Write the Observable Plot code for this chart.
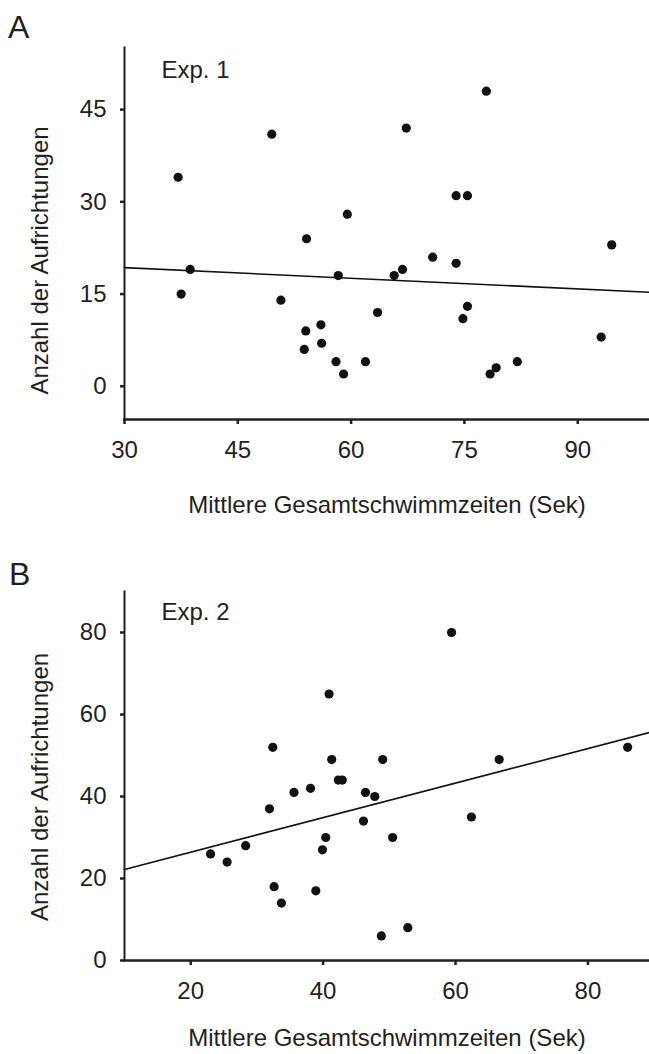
<!DOCTYPE html>
<html><head><meta charset="utf-8">
<script src="https://cdn.jsdelivr.net/npm/d3@7"></script>
<script src="https://cdn.jsdelivr.net/npm/@observablehq/plot@0.6"></script>
<style>
body{margin:0;background:#fff;font-family:"Liberation Sans",Arial,sans-serif;}
#wrap{position:relative;width:649px;height:1054px;overflow:hidden;}
.pl{position:absolute;font-size:32px;color:#231f20;line-height:1;}
.holder{position:absolute;left:0;}
</style></head><body>
<div id="wrap">
<div id="a" class="holder" style="top:0"></div>
<div id="b" class="holder" style="top:540px"></div>
<div class="pl" style="left:8px;top:11px">A</div>
<div class="pl" style="left:9px;top:558px">B</div>
</div>
<script>
// Panel A (Exp. 1)
const expAx = [37.1, 37.5, 38.7, 49.5, 50.7, 53.8, 54.0, 54.1, 56.0, 56.1, 58.0, 58.3, 59.0, 59.5, 61.9, 63.5, 65.7, 66.8, 67.3, 70.8, 73.9, 73.9, 74.8, 75.4, 75.4, 77.9, 78.4, 79.2, 82.0, 93.1, 94.5];
const expAy = [34, 15, 19, 41, 14, 6, 9, 24, 10, 7, 4, 18, 2, 28, 4, 12, 18, 19, 42, 21, 31, 20, 11, 13, 31, 48, 2, 3, 4, 8, 23];
const fitAx = [30, 99.5];
const fitAy = [19.3, 15.3];
const xTicksA = [30, 45, 60, 75, 90];
const yTicksA = [0, 15, 30, 45];

// Panel B (Exp. 2)
const expBx = [23.0, 25.5, 28.3, 31.9, 32.4, 32.6, 33.7, 35.6, 38.1, 38.9, 39.9, 40.4, 40.9, 41.3, 42.3, 42.9, 46.1, 46.4, 47.8, 48.8, 49.0, 50.5, 52.8, 59.4, 62.4, 66.6, 86.0];
const expBy = [26, 24, 28, 37, 52, 18, 14, 41, 42, 17, 27, 30, 65, 49, 44, 44, 34, 41, 40, 6, 49, 30, 8, 80, 35, 49, 52];
const fitBx = [10, 89.3];
const fitBy = [22.2, 55.6];
const xTicksB = [20, 40, 60, 80];
const yTicksB = [0, 20, 40, 60, 80];

const xLabel = "Mittlere Gesamtschwimmzeiten (Sek)";
const yLabel = "Anzahl der Aufrichtungen";
const ink = "#231f20";

function panel(o) {
  const data = o.xs.map((x, i) => ({x, y: o.ys[i]}));
  const fit = o.fitX.map((x, i) => ({x, y: o.fitY[i]}));
  return Plot.plot({
    width: 649, height: o.height,
    marginLeft: 124, marginRight: 0, marginTop: o.mt, marginBottom: o.mb,
    style: {fontFamily: "'Liberation Sans', Arial, sans-serif", fontSize: "24px", color: ink, background: "#fff", overflow: "visible"},
    x: {domain: o.xDomain},
    y: {domain: o.yDomain},
    marks: [
      Plot.frame({anchor: "left", stroke: ink, strokeWidth: 2}),
      Plot.frame({anchor: "bottom", stroke: ink, strokeWidth: 2.3}),
      Plot.axisX(o.xTicks, {tickSize: 5, tickPadding: 16, strokeWidth: 2.5, stroke: ink, fill: ink, label: null, fontSize: 24, tickFormat: d => String(d)}),
      Plot.axisY(o.yTicks, {tickSize: 4, tickPadding: 14, strokeWidth: 2.5, stroke: ink, fill: ink, label: null, fontSize: 24, tickFormat: d => String(d)}),
      Plot.line(fit, {x: "x", y: "y", stroke: "#111", strokeWidth: 1.6}),
      Plot.dot(data, {x: "x", y: "y", r: 4.6, fill: "#111"}),
      Plot.text([o.exp], {frameAnchor: "top-left", textAnchor: "start", lineAnchor: "top", dx: 37, dy: o.expDy, fontSize: 24, fill: ink}),
      Plot.text([xLabel], {frameAnchor: "bottom", textAnchor: "middle", lineAnchor: "middle", dy: o.xlDy, fontSize: 24, fill: ink}),
      Plot.text([yLabel], {frameAnchor: "left", textAnchor: "middle", lineAnchor: "middle", rotate: -90, dx: -84, dy: o.ylDy, fontSize: 24, fill: ink})
    ]
  });
}

document.getElementById("a").append(panel({
  xs: expAx, ys: expAy, fitX: fitAx, fitY: fitAy, xTicks: xTicksA, yTicks: yTicksA,
  height: 540, mt: 47, mb: 121, xDomain: [30, 99.5], yDomain: [-5.4, 55.1],
  exp: "Exp. 1", expDy: 13.5, xlDy: 86, ylDy: 27
}));
document.getElementById("b").append(panel({
  xs: expBx, ys: expBy, fitX: fitBx, fitY: fitBy, xTicks: xTicksB, yTicks: yTicksB,
  height: 514, mt: 51, mb: 94, xDomain: [10, 89.3], yDomain: [0, 90],
  exp: "Exp. 2", expDy: 11, xlDy: 78, ylDy: 11
}));
</script>
</body></html>
